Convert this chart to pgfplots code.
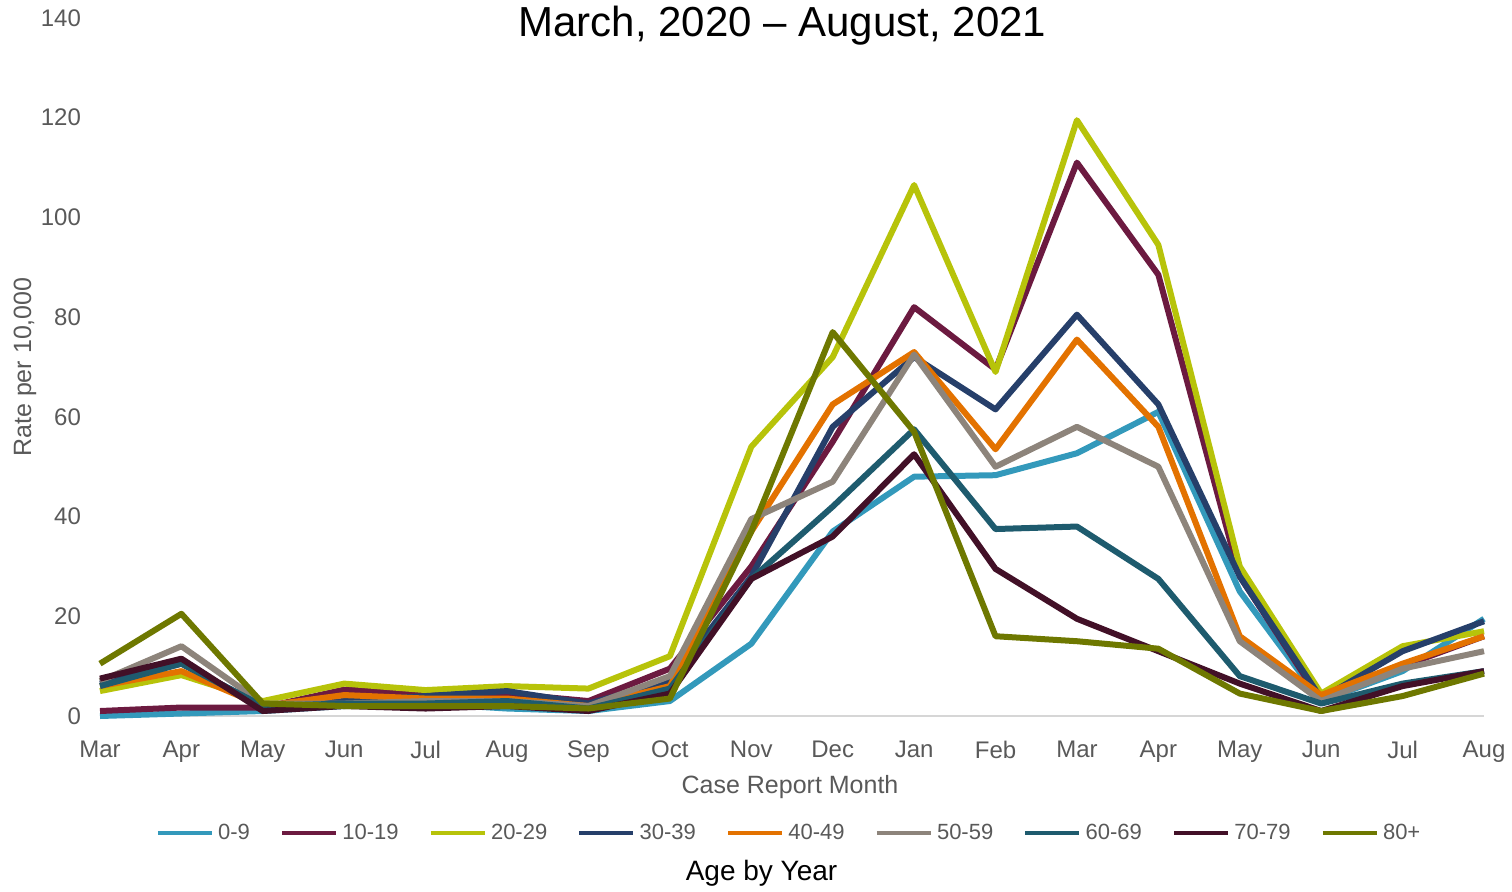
\documentclass[border=0pt]{standalone}
\usepackage{pgfplots}
\pgfplotsset{compat=1.18}
\usepackage{fontspec}
\setmainfont{Liberation Sans}

\definecolor{cA}{HTML}{3399BB}
\definecolor{cB}{HTML}{6C1A40}
\definecolor{cC}{HTML}{B7C30A}
\definecolor{cD}{HTML}{263F6A}
\definecolor{cE}{HTML}{E37200}
\definecolor{cF}{HTML}{8D847B}
\definecolor{cG}{HTML}{1E5B6E}
\definecolor{cH}{HTML}{421027}
\definecolor{cI}{HTML}{6E7800}
\definecolor{txt}{HTML}{595959}

\begin{document}
\begin{tikzpicture}
\useasboundingbox (-50pt,-87.5pt) rectangle (706pt,358pt);
\begin{axis}[
    at={(0,0)}, anchor=origin,
    width=692pt, height=349pt, scale only axis,
    xmin=0, xmax=17, ymin=0, ymax=140,
    xtick={0,...,17},
    xticklabels={Mar,Apr,May,Jun,Jul,Aug,Sep,Oct,Nov,Dec,Jan,Feb,Mar,Apr,May,Jun,Jul,Aug},
    ytick={0,20,...,140},
    axis x line*=bottom, axis y line*=left,
    x axis line style={draw=black!16,line width=1pt,-},
    y axis line style={draw=none},
    major tick length=0pt,
    clip=false,
    tick label style={font=\fontsize{12}{14}\selectfont, text=txt},
    /pgf/number format/assume math mode=true,
    xticklabel style={yshift=-9pt},
    yticklabel style={xshift=-6pt},
    xlabel={Case Report Month},
    xlabel style={at={(axis description cs:0.4986,0)}, anchor=center, yshift=-35.5pt, font=\fontsize{12.5}{14}\selectfont, text=txt},
    ylabel={Rate per 10,000},
    ylabel style={at={(axis description cs:0,0.5)}, anchor=center, yshift=37.5pt, font=\fontsize{12.5}{14}\selectfont, text=txt},
    legend columns=9,
    legend style={at={(0.4986,0)}, anchor=center, yshift=-58.5pt, draw=none, fill=none,
        font=\fontsize{11}{13}\selectfont, text=txt,
        /tikz/every even column/.append style={column sep=13pt}},
    legend image code/.code={\draw[line width=2.2pt] (0pt,0pt) -- (27pt,0pt);},
    every axis plot/.append style={line width=3pt, line join=round, no markers},
]
\addplot[cA] coordinates {(0,0)(1,0.5)(2,1)(3,2)(4,2.5)(5,1.5)(6,1)(7,3)(8,14.5)(9,37)(10,48)(11,48.3)(12,52.7)(13,61)(14,25)(15,3)(16,9)(17,19.5)};
\addplot[cB] coordinates {(0,1)(1,1.7)(2,1.7)(3,5.3)(4,4.5)(5,4.5)(6,3)(7,9.5)(8,30)(9,55)(10,82)(11,69.5)(12,111)(13,88.5)(14,28)(15,3)(16,10)(17,16)};
\addplot[cC] coordinates {(0,5)(1,8.2)(2,3)(3,6.5)(4,5.2)(5,6)(6,5.5)(7,12)(8,54)(9,72)(10,106.5)(11,69)(12,119.5)(13,94.5)(14,30)(15,4.5)(16,14)(17,17)};
\addplot[cD] coordinates {(0,6.5)(1,10.5)(2,2)(3,3)(4,4)(5,5)(6,2.5)(7,7)(8,28)(9,58)(10,72)(11,61.5)(12,80.5)(13,62.5)(14,28)(15,3.5)(16,13)(17,19)};
\addplot[cE] coordinates {(0,6)(1,9)(2,2)(3,4.2)(4,3.5)(5,3.5)(6,2)(7,6)(8,37)(9,62.5)(10,73)(11,53.5)(12,75.5)(13,58)(14,16)(15,4.2)(16,10.5)(17,16)};
\addplot[cF] coordinates {(0,7)(1,14)(2,2.5)(3,2.5)(4,3)(5,3)(6,2)(7,8)(8,39.5)(9,47)(10,72.5)(11,50)(12,58)(13,50)(14,15)(15,3)(16,9.5)(17,13)};
\addplot[cG] coordinates {(0,6)(1,10.5)(2,2)(3,2.5)(4,2.5)(5,3)(6,1.5)(7,5.5)(8,27.5)(9,42)(10,57.5)(11,37.5)(12,38)(13,27.5)(14,8)(15,2.5)(16,6.5)(17,9)};
\addplot[cH] coordinates {(0,7.5)(1,11.5)(2,1)(3,2)(4,1.5)(5,2)(6,1)(7,4.5)(8,27.5)(9,36)(10,52.5)(11,29.5)(12,19.5)(13,13)(14,6.5)(15,1)(16,6)(17,9)};
\addplot[cI] coordinates {(0,10.5)(1,20.5)(2,2.5)(3,2)(4,2)(5,2)(6,1.5)(7,3.5)(8,37)(9,77)(10,57)(11,16)(12,15)(13,13.5)(14,4.5)(15,1)(16,4)(17,8.5)};
\legend{0-9,10-19,20-29,30-39,40-49,50-59,60-69,70-79,80+}
\node[font=\fontsize{21}{25}\selectfont, anchor=center] at (rel axis cs:0.493,0.989) {March, 2020 – August, 2021};
\node[font=\fontsize{14}{16}\selectfont, anchor=center, yshift=-78.5pt] at (rel axis cs:0.478,0) {Age by Year};
\end{axis}
\end{tikzpicture}
\end{document}
